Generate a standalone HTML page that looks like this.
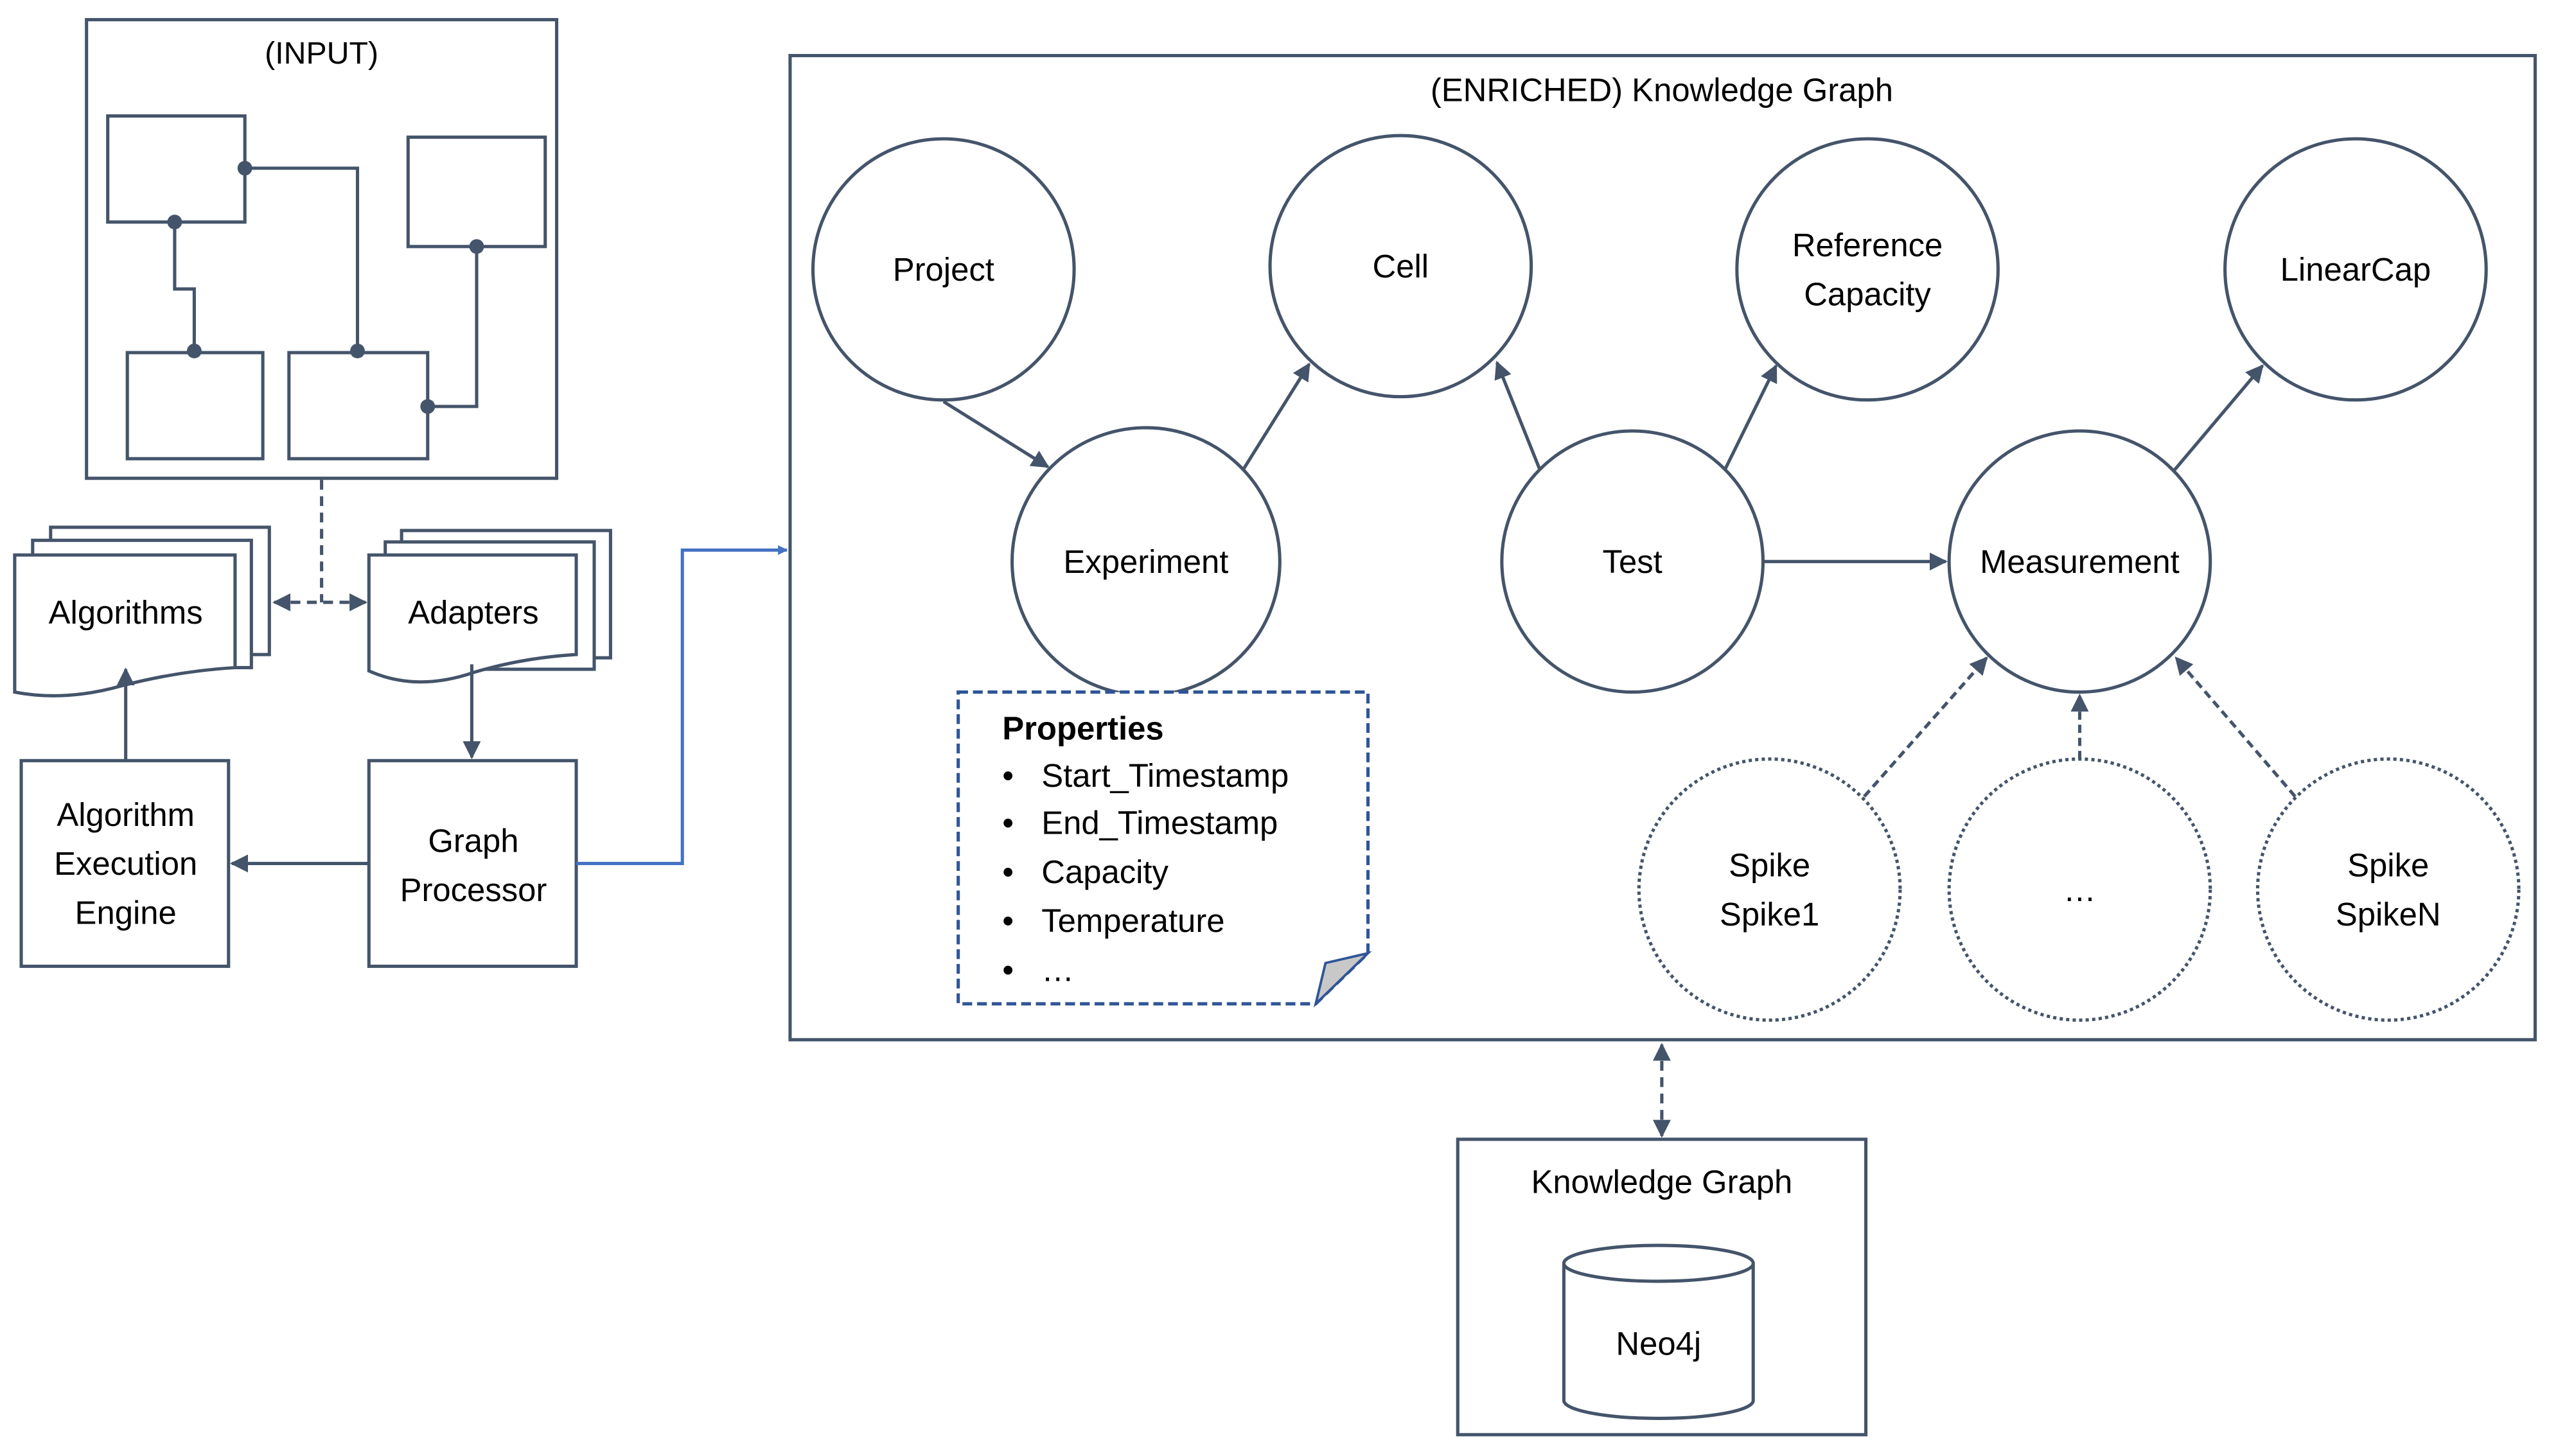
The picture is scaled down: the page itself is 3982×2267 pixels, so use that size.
<!DOCTYPE html>
<html><head><meta charset="utf-8"><style>
html,body{margin:0;padding:0;background:#fff;}
svg{display:block;}
text{font-family:"Liberation Sans","DejaVu Sans",sans-serif;fill:#000;}
</style></head><body>
<svg width="3982" height="2267" viewBox="0 0 1567 892" xmlns="http://www.w3.org/2000/svg">
<defs>
<marker id="ab" viewBox="0 0 10 10" refX="9" refY="5" markerWidth="6" markerHeight="6" orient="auto" markerUnits="userSpaceOnUse"><path d="M0,0 L10,5 L0,10 z" fill="#4472c4"/></marker>
<marker id="m" viewBox="0 0 10 10" refX="9" refY="5" markerWidth="11" markerHeight="11" orient="auto-start-reverse" markerUnits="userSpaceOnUse"><path d="M0,0 L10,5 L0,10 z" fill="#44546a"/></marker>
</defs>
<g fill="none" stroke="#44546a" stroke-width="2">
<rect x="53" y="12" width="288" height="281"/>
<rect x="66" y="71" width="84" height="65"/>
<rect x="250" y="84" width="84" height="67"/>
<rect x="78" y="216" width="83" height="65"/>
<rect x="177" y="216" width="85" height="65"/>
<polyline points="150,103 219,103 219,216"/>
<polyline points="107,136 107,177 119,177 119,216"/>
<polyline points="292,151 292,249 262,249"/>
</g>
<g fill="#44546a"><circle cx="150" cy="103" r="4.5"/><circle cx="107" cy="136" r="4.5"/><circle cx="119" cy="215" r="4.5"/><circle cx="219" cy="215" r="4.5"/><circle cx="292" cy="151" r="4.5"/><circle cx="262" cy="249" r="4.5"/></g>
<text x="197" y="39" font-size="19" text-anchor="middle">(INPUT)</text>

<g fill="#fff" stroke="#44546a" stroke-width="2">
<rect x="31" y="323" width="134" height="78"/>
<rect x="20" y="331" width="134" height="78"/>
<path d="M9,340 H144 V409 Q110,411 75,420 Q40,430 9,424 Z"/>
<rect x="246" y="325" width="128" height="78"/>
<rect x="236" y="332" width="128" height="78"/>
<path d="M226,340 H353 V401 Q320,403 290,412 Q255,424 226,411 Z"/>
<rect x="13" y="466" width="127" height="126"/>
<rect x="226" y="466" width="127" height="126"/>
</g>
<text x="77" y="382" font-size="20" text-anchor="middle">Algorithms</text>
<text x="290" y="382" font-size="20" text-anchor="middle">Adapters</text>
<text x="77" y="506" font-size="20" text-anchor="middle">Algorithm</text>
<text x="77" y="536" font-size="20" text-anchor="middle">Execution</text>
<text x="77" y="566" font-size="20" text-anchor="middle">Engine</text>
<text x="290" y="522" font-size="20" text-anchor="middle">Graph</text>
<text x="290" y="552" font-size="20" text-anchor="middle">Processor</text>

<g fill="none" stroke="#44546a" stroke-width="2">
<line x1="197" y1="294" x2="197" y2="369" stroke-dasharray="6,4"/>
<line x1="168" y1="369" x2="224" y2="369" stroke-dasharray="6,4" marker-start="url(#m)" marker-end="url(#m)"/>
<line x1="77" y1="466" x2="77" y2="410" marker-end="url(#m)"/>
<line x1="289" y1="407" x2="289" y2="464" marker-end="url(#m)"/>
<line x1="226" y1="529" x2="142" y2="529" marker-end="url(#m)"/>
<line x1="1018" y1="640" x2="1018" y2="696" stroke-dasharray="6,4" marker-start="url(#m)" marker-end="url(#m)"/>
</g>
<polyline points="353,529 418,529 418,337 482,337" fill="none" stroke="#4472c4" stroke-width="2" marker-end="url(#ab)"/>

<rect x="484" y="34" width="1069" height="603" fill="none" stroke="#44546a" stroke-width="2"/>
<text x="1018" y="62" font-size="20" text-anchor="middle">(ENRICHED) Knowledge Graph</text>

<g fill="#fff" stroke="#44546a" stroke-width="2">
<circle cx="578" cy="165" r="80"/>
<circle cx="858" cy="163" r="80"/>
<circle cx="1144" cy="165" r="80"/>
<circle cx="1443" cy="165" r="80"/>
<circle cx="702" cy="344" r="82"/>
<circle cx="1000" cy="344" r="80"/>
<circle cx="1274" cy="344" r="80"/>
</g>
<g fill="#fff" stroke="#44546a" stroke-width="2" stroke-dasharray="2,2">
<circle cx="1084" cy="545" r="80"/>
<circle cx="1274" cy="545" r="80"/>
<circle cx="1463" cy="545" r="80"/>
</g>
<g font-size="20" text-anchor="middle">
<text x="578" y="172">Project</text>
<text x="858" y="170">Cell</text>
<text x="1144" y="157">Reference</text>
<text x="1144" y="187">Capacity</text>
<text x="1443" y="172">LinearCap</text>
<text x="702" y="351">Experiment</text>
<text x="1000" y="351">Test</text>
<text x="1274" y="351">Measurement</text>
<text x="1084" y="537">Spike</text>
<text x="1084" y="567">Spike1</text>
<text x="1274" y="552">…</text>
<text x="1463" y="537">Spike</text>
<text x="1463" y="567">SpikeN</text>
</g>
<g fill="none" stroke="#44546a" stroke-width="2">
<line x1="578" y1="246" x2="642" y2="286" marker-end="url(#m)"/>
<line x1="762" y1="287" x2="802" y2="223" marker-end="url(#m)"/>
<line x1="943" y1="287" x2="917" y2="222" marker-end="url(#m)"/>
<line x1="1057" y1="287" x2="1088" y2="224" marker-end="url(#m)"/>
<line x1="1080" y1="344" x2="1192" y2="344" marker-end="url(#m)"/>
<line x1="1332" y1="288" x2="1386" y2="224" marker-end="url(#m)"/>
<g stroke-dasharray="5,3">
<line x1="1142" y1="488" x2="1217" y2="403" marker-end="url(#m)"/>
<line x1="1274" y1="465" x2="1274" y2="426" marker-end="url(#m)"/>
<line x1="1406" y1="488" x2="1333" y2="403" marker-end="url(#m)"/>
</g>
</g>

<path d="M587,424 H838 V584 L806,615 H587 Z" fill="#fff" stroke="#2f5597" stroke-width="2" stroke-dasharray="6,3"/>
<path d="M838,584 L806,615 L812,590 Z" fill="#c8c8c8" stroke="#2f5597" stroke-width="1.5"/>
<g font-size="20">
<text x="614" y="453" font-weight="bold">Properties</text>
<text x="614" y="482">•</text><text x="638" y="482">Start_Timestamp</text>
<text x="614" y="511">•</text><text x="638" y="511">End_Timestamp</text>
<text x="614" y="541">•</text><text x="638" y="541">Capacity</text>
<text x="614" y="571">•</text><text x="638" y="571">Temperature</text>
<text x="614" y="601">•</text><text x="638" y="601">…</text>
</g>

<rect x="893" y="698" width="250" height="181" fill="none" stroke="#44546a" stroke-width="2"/>
<text x="1018" y="731" font-size="20" text-anchor="middle">Knowledge Graph</text>
<path d="M958,774 V858 A58,11 0 0 0 1074,858 V774" fill="#fff" stroke="#44546a" stroke-width="2"/>
<ellipse cx="1016" cy="774" rx="58" ry="11" fill="#fff" stroke="#44546a" stroke-width="2"/>
<text x="1016" y="830" font-size="20" text-anchor="middle">Neo4j</text>
</svg>
</body></html>
